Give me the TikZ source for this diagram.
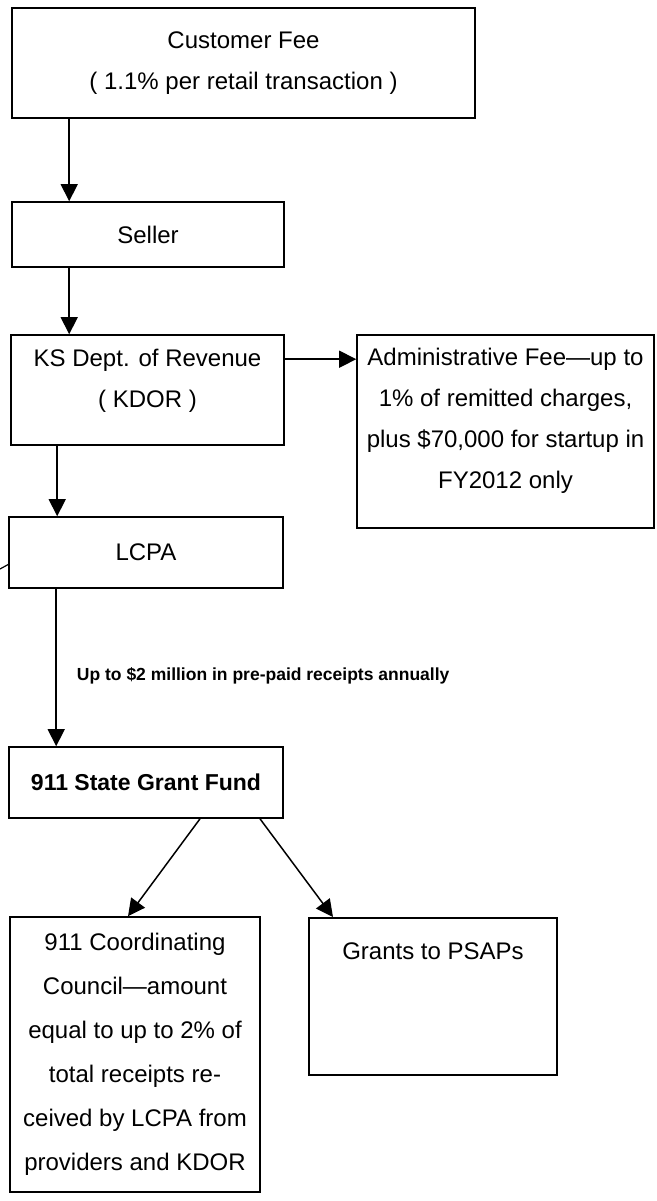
\documentclass[tikz,border=0pt]{standalone}
\usepackage{fontspec}
\setmainfont{Liberation Sans}
\usetikzlibrary{positioning, arrows.meta}

\begin{document}
\begin{tikzpicture}[x=1pt, y=-1pt,
  box/.style={draw, line width=1.6pt, align=center, inner sep=0pt, font=\fontsize{24}{41}\selectfont},
  flow/.style={line width=1.5pt, -{Triangle[width=17pt, length=17pt]}},
  lbl/.style={inner sep=0pt, font=\fontsize{17.5}{20}\selectfont\bfseries}]
\useasboundingbox (0,0) rectangle (656,1201);
\node[box, minimum width=463pt, minimum height=110pt] (cust) at (243.5,63) {Customer Fee\\( 1.1\% per retail transaction )};
\node[box, minimum width=272pt, minimum height=65pt] (seller) at (148,234.5) {Seller};
\node[box, minimum width=273pt, minimum height=110pt] (kdor) at (147.5,390) {KS Dept. of Revenue\\( KDOR )\rule[-23pt]{0pt}{0pt}};
\node[box, minimum width=297pt, minimum height=193pt] (admin) at (505.5,431.5) {Administrative Fee---up to\\1\% of remitted charges,\\plus \$70,000 for startup in\\FY2012 only\rule[-26pt]{0pt}{0pt}};
\node[box, minimum width=274pt, minimum height=71pt] (lcpa) at (146,552.5) {LCPA};
\node[box, minimum width=274pt, minimum height=71pt, font=\fontsize{23}{28}\selectfont\bfseries] (grant) at (146,782.5) {911 State Grant Fund};
\node[box, minimum width=250pt, minimum height=275pt, font=\fontsize{24}{44}\selectfont] (coord) at (135,1054.5) {911 Coordinating\\Council---amount\\equal to up to 2\% of\\total receipts re-\\ceived by LCPA from\\providers and KDOR};
\node[box, minimum width=248pt, text height=41.6pt, text depth=115.4pt, anchor=north] (psap) at (433,917) {Grants to PSAPs};
\coordinate (edge) at (0,569);

\draw[flow] ([xshift=58pt]cust.south west) -- ([xshift=58pt]seller.north west);
\draw[flow] ([xshift=58pt]seller.south west) -- ([xshift=58pt]seller.south west |- kdor.north);
\draw[flow] ([yshift=-25pt]kdor.north east) -- ([yshift=-25pt]kdor.north east -| admin.west);
\draw[flow] ([xshift=47pt]kdor.south west) -- ([xshift=47pt]kdor.south west |- lcpa.north);
\draw[flow] ([xshift=48pt]lcpa.south west) -- ([xshift=48pt]lcpa.south west |- grant.north)
  node[lbl, pos=0.55, right=20pt] {Up to \$2 million in pre-paid receipts annually};
\draw[flow] ([xshift=54pt]grant.south) -- ([xshift=-7pt]coord.north);
\draw[flow] ([xshift=114pt]grant.south) -- ([xshift=-100pt]psap.north);
\draw[line width=1.2pt] (edge) -- ([yshift=-12pt]lcpa.west);
\end{tikzpicture}
\end{document}
